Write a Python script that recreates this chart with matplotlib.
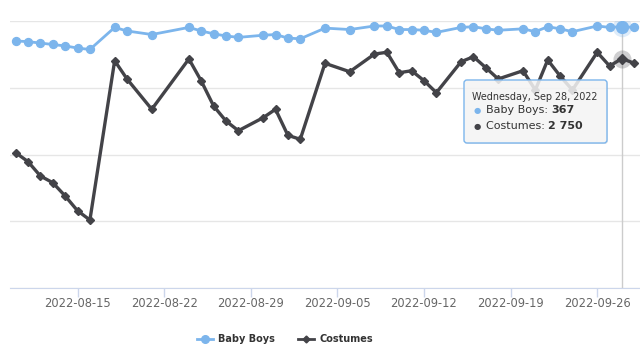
#!/usr/bin/env python3
# Baby Boys vs Costumes daily chart (highcharts-like look) -> out.png
import matplotlib
matplotlib.use('Agg')
import matplotlib.pyplot as plt
import matplotlib.dates as mdates
from matplotlib.lines import Line2D
from matplotlib.patches import FancyBboxPatch
from matplotlib.text import Annotation
import pandas as pd

# data (some days missing)
dates = ['2022-08-10', '2022-08-11', '2022-08-12', '2022-08-13', '2022-08-14',
         '2022-08-15', '2022-08-16', '2022-08-18', '2022-08-19', '2022-08-21',
         '2022-08-24', '2022-08-25', '2022-08-26', '2022-08-27', '2022-08-28',
         '2022-08-30', '2022-08-31', '2022-09-01', '2022-09-02', '2022-09-04',
         '2022-09-06', '2022-09-08', '2022-09-09', '2022-09-10', '2022-09-11',
         '2022-09-12', '2022-09-13', '2022-09-15', '2022-09-16', '2022-09-17',
         '2022-09-18', '2022-09-20', '2022-09-21', '2022-09-22', '2022-09-23',
         '2022-09-24', '2022-09-26', '2022-09-27', '2022-09-28', '2022-09-29']
baby_boys = [347, 346, 344, 342, 340, 337, 335, 366, 361, 356,
             366, 361, 357, 354, 352, 355, 356, 351, 350, 365,
             363, 368, 368, 363, 363, 362, 359, 366, 367, 364,
             362, 364, 360, 367, 364, 360, 368, 366, 367, 366]
costumes = [1622, 1514, 1342, 1262, 1103, 926, 815, 2724, 2505, 2142,
            2745, 2481, 2181, 2001, 1885, 2041, 2142, 1830, 1782, 2693,
            2592, 2804, 2825, 2580, 2604, 2485, 2341, 2712, 2772, 2640,
            2505, 2604, 2373, 2733, 2541, 2373, 2825, 2661, 2750, 2693]
tick_dates = ['2022-08-15', '2022-08-22', '2022-08-29', '2022-09-05',
              '2022-09-12', '2022-09-19', '2022-09-26']
costume_ticks = [0, 800, 1600, 2400, 3200]
hover_date = '2022-09-28'
hover_label = 'Wednesday, Sep 28, 2022'

blue = '#7cb5ec'
dark = '#434348'
txt = '#333333'

x = pd.to_datetime(dates)
i = dates.index(hover_date)

fig = plt.figure(figsize=(6.4, 3.6), dpi=100)
ax = fig.add_axes([10 / 640, 72 / 360, 630 / 640, 267 / 360])
ax2 = ax.twinx()

ax.set_xlim(x[0] - pd.Timedelta(hours=11), x[-1] + pd.Timedelta(hours=11))
ax.set_ylim(costume_ticks[0], costume_ticks[-1])
ax2.set_ylim(0, 375)

ax.set_yticks(costume_ticks)
ax.yaxis.grid(True, color='#e6e6e6', lw=1)
ax.set_axisbelow(True)
ax.tick_params(axis='y', length=0, labelleft=False)
ax2.set_yticks([])
for a in (ax, ax2):
    for s in ('top', 'left', 'right'):
        a.spines[s].set_visible(False)
ax2.spines['bottom'].set_visible(False)
ax.spines['bottom'].set_color('#ccd6eb')

ax.set_xticks(pd.to_datetime(tick_dates))
ax.xaxis.set_major_formatter(mdates.DateFormatter('%Y-%m-%d'))
ax.tick_params(axis='x', length=6.5, width=1, color='#ccd6eb', pad=0.3,
               labelsize=8.3, labelcolor='#666666')

# crosshair
ax.axvline(x[i], color='#cccccc', lw=1, zorder=1)

ax.plot(x, costumes, color=dark, lw=2.4, marker='D', ms=3.6, zorder=3)
ax.plot(x[i], costumes[i], 'o', ms=13, color=dark, alpha=0.25, mec='none', zorder=2)
ax.plot(x[i], costumes[i], 'D', ms=5, color=dark, zorder=4)

ax2.plot(x, baby_boys, color=blue, lw=2, marker='o', ms=5.7, zorder=3)
ax2.plot(x[i], baby_boys[i], 'o', ms=14, color=blue, alpha=0.25, mec='none', zorder=2)
ax2.plot(x[i], baby_boys[i], 'o', ms=8.5, color=blue, zorder=4)

# legend
handles = [Line2D([], [], color=blue, lw=2, marker='o', ms=5.5),
           Line2D([], [], color=dark, lw=2, marker='D', ms=3.5)]
fig.legend(handles, ['Baby Boys', 'Costumes'], loc='center',
           bbox_to_anchor=(285 / 640, 1 - 339 / 360), ncol=2, frameon=False,
           handlelength=1.65, handletextpad=0.5, columnspacing=2.4,
           prop={'weight': 'bold', 'size': 7}, labelcolor=txt)

# tooltip
px = 0.01
shadow = FancyBboxPatch((465 * px, (360 - 144) * px), 143 * px, 63 * px,
                        boxstyle='round,pad=0,rounding_size=0.03',
                        transform=fig.dpi_scale_trans, facecolor=(0, 0, 0, 0.08),
                        edgecolor='none', zorder=9)
box = FancyBboxPatch((464 * px, (360 - 143) * px), 143 * px, 63 * px,
                     boxstyle='round,pad=0,rounding_size=0.03',
                     transform=fig.dpi_scale_trans, facecolor=(0.97, 0.97, 0.97, 0.85),
                     edgecolor=blue, lw=1, zorder=10)
fig.add_artist(shadow)
fig.add_artist(box)

fig.text(472 / 640, 1 - 97 / 360, hover_label, fontsize=6.9, color=txt,
         va='center', zorder=11)
rows = [('Baby Boys', f'{baby_boys[i]}', blue, 110),
        ('Costumes', f'{costumes[i]:,}'.replace(',', ' '), dark, 126)]
for name, val, col, ypx in rows:
    fig.text(477 / 640, 1 - ypx / 360, '\u25cf', color=col, fontsize=6,
             ha='center', va='center', zorder=11)
    t = fig.text(486 / 640, 1 - ypx / 360, name + ': ', fontsize=8, color=txt,
                 va='center', zorder=11)
    fig.add_artist(Annotation(val, xy=(1, 0), xycoords=t, va='bottom', ha='left',
                              fontsize=8, fontweight='bold', color=txt, zorder=11))

fig.savefig('out.png', dpi=100)
